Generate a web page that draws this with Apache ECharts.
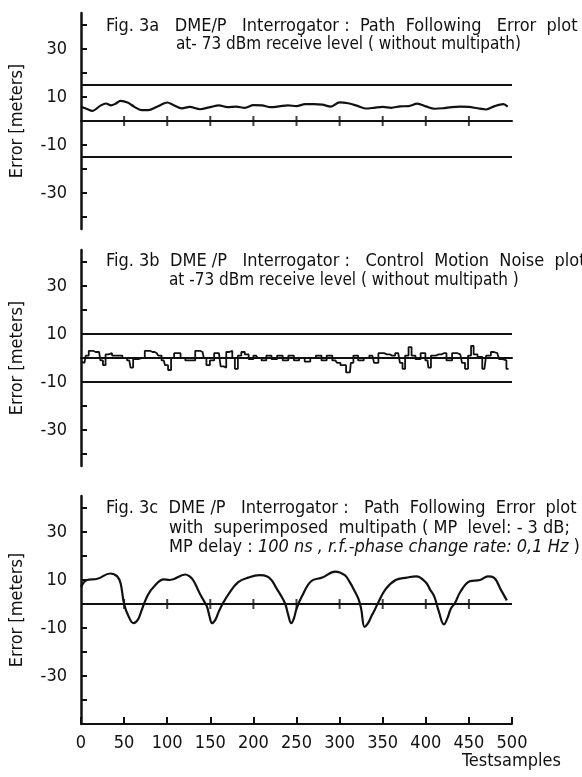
<!DOCTYPE html>
<html>
<head>
<meta charset="utf-8">
<script src="https://cdn.jsdelivr.net/npm/echarts@6/dist/echarts.min.js"></script>
<style>
html, body { margin: 0; padding: 0; background: #fff; }
#chart { width: 582px; height: 777px; }
</style>
</head>
<body>
<div id="chart"></div>
<script>
var FONT = "'DejaVu Sans Condensed', 'Liberation Sans Narrow', 'Noto Sans', sans-serif";
var INK = '#111';

// Fig. 3a - path following error, no multipath
var aSamples = [0, 7, 13, 23, 29, 35, 40, 46, 54, 62, 70, 78, 88, 100, 107, 117, 126, 138, 150, 160, 170, 180, 190, 200,
    210, 220, 230, 240, 250, 260, 270, 280, 290, 300, 310, 320, 330, 340, 350, 360, 370, 380, 390, 400,
    410, 420, 430, 440, 450, 460, 470, 480, 490, 495];
var aError = [5.9, 5.0, 4.2, 6.5, 7.3, 6.5, 7.2, 8.4, 7.7, 5.9, 4.5, 4.5, 5.9, 7.7, 6.7, 5.3, 5.9, 4.9, 5.8, 6.5, 5.8, 6.0, 5.5, 6.6,
    6.5, 5.8, 6.1, 6.5, 6.2, 7.0, 7.0, 6.8, 6.0, 7.8, 7.4, 6.4, 5.2, 5.5, 5.9, 5.5, 6.1, 6.2, 7.2, 6.1,
    5.1, 5.3, 5.8, 6.0, 5.9, 5.3, 4.8, 6.2, 7.0, 6.0];
var aLimits = [15, -15];

// Fig. 3b - control motion noise
var bSamples = [0, 4, 7, 11, 17, 21, 24, 27, 30, 34, 38, 45, 51, 56, 59, 62, 71, 77, 83, 88, 91, 96, 99, 103, 106,
    110, 113, 118, 124, 130, 135, 141, 144, 147, 152, 157, 160, 164, 167, 170, 174, 177, 180, 184, 188, 192,
    197, 203, 207, 212, 218, 224, 231, 237, 244, 250, 256, 263, 269, 276, 282, 288, 295, 299, 303, 312, 314,
    318, 325, 331, 338, 342, 348, 355, 361, 368, 372, 374, 378, 382, 385, 391, 397, 402, 404, 408, 415, 421,
    427, 434, 440, 444, 447, 451, 454, 457, 463, 468, 472, 479, 483, 487, 491, 496];
var bError = [-1.5, -2, 1, 3, 2.5, 2.5, -1, -3, 1.5, 2, 1, 1, 0, -1, -4, -0.5, 0, 3, 2.5, 2, 1, -1, -3, -5, 0,
    2, 2, 0, -1, -1, 3, 2.5, 0, -3, -1, 2, 2, -3.5, -4, 2.5, 3, 0, -4.5, 1, 2.5, 1.5,
    -0.5, 1, 0, -1, 1, -0.5, 1, -1, 1, -1, 0, -1.5, 0, 1, -1, 1, -1, -2, -3, -6, -2,
    1, -1, 0, 1, -2, 2, 1.5, 1, 2, -2, -4.5, 1, 4.5, 1, -0.5, 2, -1, -4, 1, 1.5, 2,
    -1, 2, 1.5, -2, -4.5, 1, 5, 1.5, 0.5, -4.5, 1, 2.5, 2, -0.5, -1, -4.5];
var bLimits = [10, -10];

// Fig. 3c - path following error with multipath
var cSamples = [0, 7, 19, 34, 42, 46, 50, 55, 61, 66, 70, 73, 78, 84, 96, 103, 121, 126, 130, 135, 139,
    146, 149, 152, 156, 160, 165, 171, 182, 194, 207, 216, 222, 226, 232, 237, 240, 244, 247, 250, 256, 267,
    280, 295, 306, 312, 318, 322, 325, 329, 333, 337, 340, 344, 353, 365, 378, 389, 400, 405, 410, 415, 421,
    425, 429, 434, 440, 451, 463, 472, 479, 487, 494];
var cError = [7.1, 10, 10.5, 12.7, 11.5, 8.5, 0, -5, -8, -6.5, -3, 0, 4, 7, 10.3, 10, 12.3, 11.5, 10, 6.5, 3.5,
    -1, -5, -8, -6.5, -3, 0.5, 4, 9, 11, 12, 11.5, 9.5, 7, 3.5, 0, -4, -8, -6, -2, 3, 9.5,
    11, 13.5, 12, 9, 5, 2, -2, -9.5, -8, -5, -3, 0, 6, 10, 11, 11.5, 9, 6, 3, -3, -8.5,
    -6, -2, 0.5, 5, 9.5, 10, 11.5, 11, 6, 1.5];

var zeroTicks = [50, 100, 150, 200, 250, 300, 350, 400, 450];
var yTickValues = [-40, -30, -20, -10, 0, 10, 20, 30, 40];
var yLabelValues = [-30, -10, 10, 30];

function pairs(xs, ys) {
    return xs.map(function (x, i) { return [x, ys[i]]; });
}

var panels = [
    { top: 13, height: 216, min: -45, max: 45 },
    { top: 250, height: 216, min: -45, max: 45 },
    { top: 496, height: 228, min: -50, max: 45 }
];

var grids = [], xAxes = [], yAxes = [];
panels.forEach(function (p, i) {
    grids.push({ left: 80, right: 70, top: p.top, height: p.height });
    var last = i === 2;
    xAxes.push({
        type: 'value', gridIndex: i, min: 0, max: 500, interval: 50,
        axisLine: { show: true, onZero: !last, lineStyle: { color: INK, width: 2 } },
        axisTick: { show: last, inside: true, length: 7, lineStyle: { color: INK, width: 2 } },
        axisLabel: { show: last, color: INK, fontFamily: FONT, fontSize: 18, margin: 10 },
        splitLine: { show: false }
    });
    yAxes.push({
        type: 'value', gridIndex: i, min: p.min, max: p.max,
        name: 'Error [meters]', nameLocation: 'middle', nameGap: 55, nameRotate: 90,
        nameTextStyle: { color: INK, fontFamily: FONT, fontSize: 18 },
        axisLine: { show: true, onZero: false, lineStyle: { color: INK, width: 2.5 } },
        axisTick: { show: true, inside: true, length: 6, customValues: yTickValues, lineStyle: { color: INK, width: 2 } },
        axisLabel: { color: INK, fontFamily: FONT, fontSize: 18, margin: 14, customValues: yLabelValues },
        splitLine: { show: false }
    });
});

function limitLines(vals) {
    return {
        silent: true, symbol: 'none', label: { show: false },
        lineStyle: { color: INK, width: 2, type: 'solid' },
        data: vals.map(function (v) { return { yAxis: v }; })
    };
}

function crossTicks(i) {
    return {
        type: 'scatter', xAxisIndex: i, yAxisIndex: i, silent: true,
        symbol: 'rect', symbolSize: [2, 10], itemStyle: { color: INK },
        data: zeroTicks.map(function (x) { return [x, 0]; })
    };
}

var series = [
    {
        type: 'line', xAxisIndex: 0, yAxisIndex: 0, data: pairs(aSamples, aError),
        showSymbol: false, smooth: 0.3, lineStyle: { color: INK, width: 2.2 },
        markLine: limitLines(aLimits)
    },
    crossTicks(0),
    {
        type: 'line', xAxisIndex: 1, yAxisIndex: 1, data: pairs(bSamples, bError),
        showSymbol: false, step: 'middle', lineStyle: { color: INK, width: 1.8 },
        markLine: limitLines(bLimits)
    },
    {
        type: 'line', xAxisIndex: 2, yAxisIndex: 2, data: pairs(cSamples, cError),
        showSymbol: false, smooth: 0.4, lineStyle: { color: INK, width: 2.2 },
        markLine: limitLines([0])
    },
    crossTicks(2)
];

function txt(x, y, s, size) {
    size = size || 18;
    return {
        type: 'text', left: x, top: y, silent: true,
        style: {
            text: s, fill: INK, font: size + 'px ' + FONT,
            rich: { it: { fontStyle: 'italic', fontSize: size, fontFamily: FONT, fill: INK } }
        }
    };
}

var chart = echarts.init(document.getElementById('chart'));
chart.setOption({
    backgroundColor: '#fff',
    animation: false,
    grid: grids,
    xAxis: xAxes,
    yAxis: yAxes,
    series: series,
    graphic: [
        txt(106, 17, 'Fig. 3a   DME/P   Interrogator :  Path  Following   Error  plot'),
        txt(176, 36, 'at- 73 dBm receive level ( without multipath)', 17),
        txt(106, 252, 'Fig. 3b  DME /P   Interrogator :   Control  Motion  Noise  plot'),
        txt(169, 272, 'at -73 dBm receive level ( without multipath )', 17),
        txt(106, 499, 'Fig. 3c  DME /P   Interrogator :   Path  Following  Error  plot'),
        txt(169, 519, 'with  superimposed  multipath ( MP  level: - 3 dB;'),
        txt(169, 538, 'MP delay : {it|100 ns , r.f.-phase change rate: 0,1 Hz} )'),
        txt(462, 752, 'Testsamples')
    ]
});
</script>
</body>
</html>
